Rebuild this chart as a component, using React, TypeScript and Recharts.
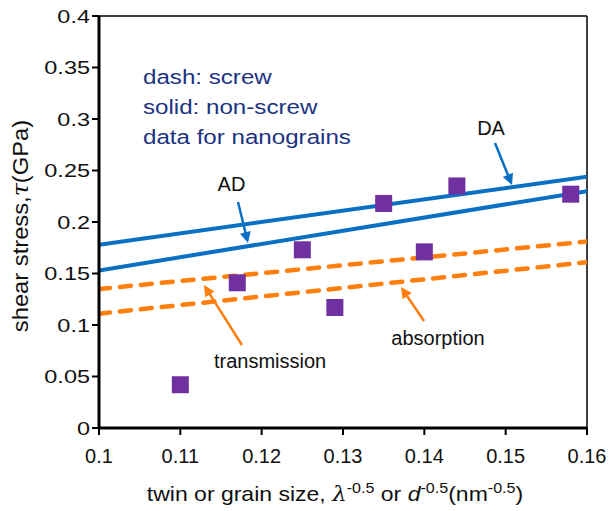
import React from 'react';
import {
  ComposedChart, Line, Scatter, XAxis, YAxis, ReferenceLine, ReferenceDot,
} from 'recharts';

// ---- data ----
const xTicks = [0.1, 0.11, 0.12, 0.13, 0.14, 0.15, 0.16];
const xTickLabels = ['0.1', '0.11', '0.12', '0.13', '0.14', '0.15', '0.16'];
const yTicks = [0, 0.05, 0.1, 0.15, 0.2, 0.25, 0.3, 0.35, 0.4];
const yTickLabels = ['0', '0.05', '0.1', '0.15', '0.2', '0.25', '0.3', '0.35', '0.4'];

const grainX = [0.11, 0.117, 0.125, 0.129, 0.135, 0.14, 0.144, 0.158];
const grainY = [0.042, 0.141, 0.173, 0.117, 0.218, 0.171, 0.235, 0.227];

const lineX = [0.1, 0.16];
const daY = [0.178, 0.244]; // solid upper (DA)
const adY = [0.153, 0.230]; // solid lower (AD)
const transY = [0.135, 0.181]; // dashed upper (transmission)
const absY = [0.111, 0.161]; // dashed lower (absorption)

const noteLabels = ['AD', 'DA', 'transmission', 'absorption'];
const noteX = [0.11629, 0.1482, 0.12103, 0.14168];
const noteY = [0.2301, 0.2845, 0.0583, 0.0806];

const arrowFromX = [0.11709, 0.14869, 0.11758, 0.13996];
const arrowFromY = [0.2194, 0.2767, 0.0806, 0.1039];
const arrowToX = [0.11832, 0.15078, 0.11291, 0.13713];
const arrowToY = [0.1796, 0.2359, 0.1388, 0.1369];
const arrowKind = ['blue', 'blue', 'orange', 'orange'];

const legendLines = ['dash: screw', 'solid: non-screw', 'data for nanograins'];
const legendX = 0.10541;
const legendY = [0.334, 0.305, 0.2757];

const BLUE = '#0A70C4';
const ORANGE = '#FF7F0E';
const PURPLE = '#7030A0';
const NAVY = '#1C3382';
const FONT = '"Liberation Sans", Arial, sans-serif';

const mk = (xs: number[], ys: number[]) => xs.map((x, i) => ({ x, y: ys[i] }));
const grainData = mk(grainX, grainY);

const XTick = (props: any) => {
  const { x, y, index } = props;
  return (
    <text x={x} y={y + 24} textAnchor="middle" fontFamily={FONT} fontSize={20} fill="#111">
      {xTickLabels[index]}
    </text>
  );
};

const YTick = (props: any) => {
  const { x, y, index } = props;
  return (
    <text
      transform={`translate(${x},${y + 6.5}) scale(1.27,1)`}
      textAnchor="end"
      fontFamily={FONT}
      fontSize={18.5}
      fill="#111"
    >
      {yTickLabels[index]}
    </text>
  );
};

const Arrow = (color: string) => (props: any) => {
  const { x1, y1, x2, y2 } = props;
  if ([x1, y1, x2, y2].some((v) => typeof v !== 'number' || isNaN(v))) return null;
  const dx = x2 - x1;
  const dy = y2 - y1;
  const len = Math.sqrt(dx * dx + dy * dy);
  const ux = dx / len;
  const uy = dy / len;
  const hl = 11;
  const hw = 5.5;
  const bx = x2 - ux * hl;
  const by = y2 - uy * hl;
  const pts = `${x2},${y2} ${bx - uy * hw},${by + ux * hw} ${bx + uy * hw},${by - ux * hw}`;
  return (
    <g>
      <line x1={x1} y1={y1} x2={bx + ux * 2} y2={by + uy * 2} stroke={color} strokeWidth={2.5} />
      <polygon points={pts} fill={color} />
    </g>
  );
};

const Label = (text: string, color: string, size: number, anchor: string, sx: number) => (props: any) => {
  const { cx, cy } = props;
  return (
    <text
      transform={`translate(${cx},${cy}) scale(${sx},1)`}
      textAnchor={anchor}
      fontFamily={FONT}
      fontSize={size}
      fill={color}
    >
      {text}
    </text>
  );
};

export default function App() {
  return (
    <div style={{ position: 'absolute', left: 0, top: 0, background: '#fff' }}>
      <ComposedChart width={611} height={511} margin={{ top: 16, right: 24, bottom: 0, left: 0 }}>
        <XAxis
          type="number"
          dataKey="x"
          domain={[0.1, 0.16]}
          ticks={xTicks}
          interval={0}
          allowDataOverflow
          height={83}
          axisLine={{ stroke: '#000', strokeWidth: 3 }}
          tickLine={{ stroke: '#000', strokeWidth: 2 }}
          tickSize={7}
          tickMargin={4}
          tick={<XTick />}
          label={(p: any) => {
            const vb = p.viewBox || {};
            const cx = (vb.x ?? 99) + (vb.width ?? 488) / 2 - 8;
            return (
              <text
                transform={`translate(${cx},501) scale(1.15,1)`}
                textAnchor="middle"
                fontFamily={FONT}
                fontSize={20}
                fill="#111"
              >
                twin or grain size,{' '}
                <tspan fontStyle="italic" fontFamily='"DejaVu Serif", serif'>λ</tspan>
                <tspan fontSize={14} dy={-8}>-0.5</tspan>
                <tspan dy={8}> or </tspan>
                <tspan fontStyle="italic">d</tspan>
                <tspan fontSize={14} dy={-8}>-0.5</tspan>
                <tspan dy={8}>(nm</tspan>
                <tspan fontSize={14} dy={-8}>-0.5</tspan>
                <tspan dy={8}>)</tspan>
              </text>
            );
          }}
        />
        <YAxis
          type="number"
          dataKey="y"
          domain={[0, 0.4]}
          ticks={yTicks}
          interval={0}
          allowDataOverflow
          width={99}
          axisLine={{ stroke: '#000', strokeWidth: 3 }}
          tickLine={{ stroke: '#000', strokeWidth: 2 }}
          tickSize={7}
          tickMargin={2}
          tick={<YTick />}
          label={(p: any) => {
            const vb = p.viewBox || {};
            const cy = (vb.y ?? 16) + (vb.height ?? 412) / 2 + 4;
            return (
              <text
                transform={`translate(28,${cy}) rotate(-90) scale(1.08,1)`}
                textAnchor="middle"
                fontFamily={FONT}
                fontSize={22}
                fill="#111"
              >
                shear stress,
                <tspan fontStyle="italic" fontFamily='"DejaVu Serif", serif'>τ</tspan>
                (GPa)
              </text>
            );
          }}
        />
        <ReferenceLine y={0.4} stroke="#000" strokeWidth={1.5} ifOverflow="visible" />
        <ReferenceLine x={0.16} stroke="#000" strokeWidth={1.5} ifOverflow="visible" />

        <Line data={mk(lineX, daY)} dataKey="y" stroke={BLUE} strokeWidth={4} dot={false} isAnimationActive={false} />
        <Line data={mk(lineX, adY)} dataKey="y" stroke={BLUE} strokeWidth={4} dot={false} isAnimationActive={false} />
        <Line data={mk(lineX, transY)} dataKey="y" stroke={ORANGE} strokeWidth={4.5} strokeDasharray="11 10" strokeLinecap="round" dot={false} isAnimationActive={false} />
        <Line data={mk(lineX, absY)} dataKey="y" stroke={ORANGE} strokeWidth={4.5} strokeDasharray="11 10" strokeLinecap="round" dot={false} isAnimationActive={false} />

        <Scatter
          data={grainData}
          dataKey="y"
          isAnimationActive={false}
          shape={(p: any) => (
            <rect x={p.cx - 8.5} y={p.cy - 8.5} width={17} height={17} fill={PURPLE} />
          )}
        />

        {noteLabels.map((t, i) => (
          <ReferenceLine
            key={'a' + i}
            segment={[{ x: arrowFromX[i], y: arrowFromY[i] }, { x: arrowToX[i], y: arrowToY[i] }]}
            ifOverflow="visible"
            shape={Arrow(arrowKind[i] === 'blue' ? BLUE : ORANGE)}
          />
        ))}
        {noteLabels.map((t, i) => (
          <ReferenceDot
            key={'n' + i}
            x={noteX[i]}
            y={noteY[i]}
            r={1}
            ifOverflow="visible"
            shape={Label(t, '#111', 20, 'middle', 1.0)}
          />
        ))}
        {legendLines.map((t, i) => (
          <ReferenceDot
            key={'l' + i}
            x={legendX}
            y={legendY[i]}
            r={1}
            ifOverflow="visible"
            shape={Label(t, NAVY, 21, 'start', 1.15)}
          />
        ))}
      </ComposedChart>
    </div>
  );
}
